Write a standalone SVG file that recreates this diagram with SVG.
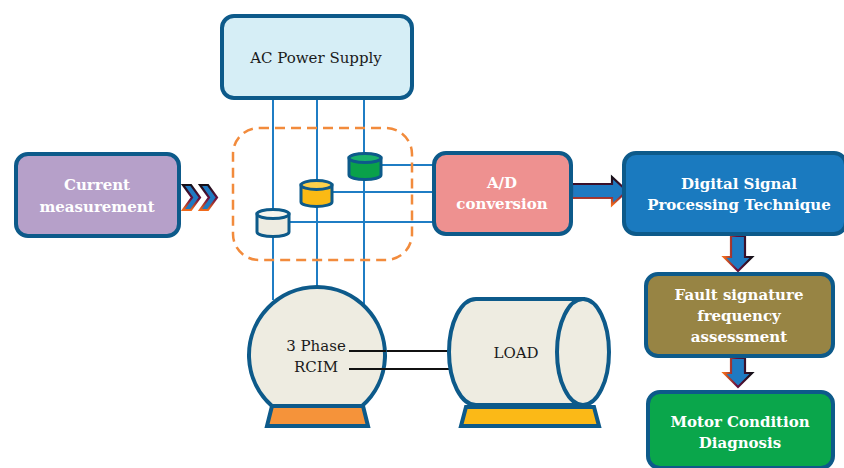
<svg xmlns="http://www.w3.org/2000/svg" width="844" height="468" viewBox="0 0 844 468">
  <defs>
    <!-- dark-to-orange rim used on the flow arrows -->
    <linearGradient id="rim" x1="0" y1="0" x2="0" y2="1">
      <stop offset="0" stop-color="#141018"/>
      <stop offset="0.55" stop-color="#6a1040"/>
      <stop offset="1" stop-color="#f06a1c"/>
    </linearGradient>
    <linearGradient id="rimH" x1="0" y1="0" x2="1" y2="0">
      <stop offset="0" stop-color="#f06a1c"/>
      <stop offset="0.45" stop-color="#6a1040"/>
      <stop offset="1" stop-color="#141018"/>
    </linearGradient>
  </defs>
  <style>
    .box { stroke: #0d5a8a; stroke-width: 4; }
    .wire { stroke: #1f7dc4; stroke-width: 2; fill: none; }
    .lbl { font-family: "DejaVu Serif", "Liberation Serif", serif; font-size: 15px; fill: #1a1a1a; text-anchor: middle; }
    .hd { font-family: "DejaVu Serif", "Liberation Serif", serif; font-size: 15px; font-weight: bold; fill: #ffffff; text-anchor: middle; }
    .cyl { stroke: #0d5a8a; stroke-width: 3; }
    .arrow { fill: #1f7ac2; stroke: url(#rim); stroke-width: 2.2; stroke-linejoin: miter; }
    .arrowV { fill: #1f7ac2; stroke: url(#rimH); stroke-width: 2.2; stroke-linejoin: miter; }
    .lead { stroke: #111111; stroke-width: 2; }
  </style>

  <!-- wiring from the supply down to the motor, with sensor taps -->
  <g id="connectors">
    <line class="wire" x1="273" y1="98" x2="273" y2="300"/>
    <line class="wire" x1="317" y1="98" x2="317" y2="288"/>
    <line class="wire" x1="364" y1="98" x2="364" y2="305"/>
    <line class="wire" x1="381" y1="165" x2="433" y2="165"/>
    <line class="wire" x1="332" y1="192" x2="433" y2="192"/>
    <line class="wire" x1="289" y1="222" x2="433" y2="222"/>
    <!-- shaft coupling between motor and load -->
    <line class="lead" x1="349" y1="351" x2="449" y2="351"/>
    <line class="lead" x1="349" y1="369" x2="449" y2="369"/>
    <!-- double chevron -->
    <polygon class="arrow" points="183,185 191,185 200,197.5 191,210 183,210 192,197.5"/>
    <polygon class="arrow" points="200,185 208,185 217,197.5 208,210 200,210 209,197.5"/>
    <!-- A/D to DSP -->
    <polygon class="arrow" points="572,184 612,184 612,177 627,191 612,205 612,198 572,198"/>
    <!-- DSP to fault assessment -->
    <polygon class="arrowV" points="731,236 745,236 745,257 752,257 738,271 724,257 731,257"/>
    <!-- fault assessment to diagnosis -->
    <polygon class="arrowV" points="731,358 745,358 745,373 752,373 738,387 724,373 731,373"/>
  </g>

  <g id="sensing-zone">
    <rect x="233" y="128" width="179" height="132" rx="26" fill="none" stroke="#f28b3c" stroke-width="2.5" stroke-dasharray="10,6"/>
  </g>

  <g id="sensor-green">
    <path class="cyl" d="M349,158 L349,175 A16,4.5 0 0 0 381,175 L381,158 Z" fill="#0aa14a"/>
    <ellipse class="cyl" cx="365" cy="158" rx="16" ry="4.5" fill="#19b06a"/>
  </g>
  <g id="sensor-yellow">
    <path class="cyl" d="M301,185 L301,202 A15.5,4.5 0 0 0 332,202 L332,185 Z" fill="#fbba14"/>
    <ellipse class="cyl" cx="316.5" cy="185" rx="15.5" ry="4.5" fill="#fcd04a"/>
  </g>
  <g id="sensor-white">
    <path class="cyl" d="M257,214 L257,232 A16,4.5 0 0 0 289,232 L289,214 Z" fill="#eeece1"/>
    <ellipse class="cyl" cx="273" cy="214" rx="16" ry="4.5" fill="#f6f5ee"/>
  </g>

  <g id="ac-supply">
    <rect class="box" x="222" y="16" width="190" height="82" rx="12" fill="#d6eef6"/>
    <text class="lbl" x="316" y="63">AC Power Supply</text>
  </g>

  <g id="current-measurement">
    <rect class="box" x="16" y="154" width="163" height="82" rx="12" fill="#b6a0c9"/>
    <text class="hd" x="97" y="190">Current</text>
    <text class="hd" x="97" y="212">measurement</text>
  </g>

  <g id="ad-conversion">
    <rect class="box" x="434" y="153" width="137" height="81" rx="12" fill="#ee9190"/>
    <text class="hd" x="502" y="188">A/D</text>
    <text class="hd" x="502" y="209">conversion</text>
  </g>

  <g id="dsp">
    <rect class="box" x="624" y="153" width="222" height="81" rx="12" fill="#1a7abf"/>
    <text class="hd" x="739" y="189">Digital Signal</text>
    <text class="hd" x="739" y="210">Processing Technique</text>
  </g>

  <g id="fault-assessment">
    <rect class="box" x="646" y="274" width="187" height="82" rx="12" fill="#978444"/>
    <text class="hd" x="739" y="300">Fault signature</text>
    <text class="hd" x="739" y="321">frequency</text>
    <text class="hd" x="739" y="342">assessment</text>
  </g>

  <g id="diagnosis">
    <rect class="box" x="648" y="392" width="185" height="76" rx="12" fill="#0aa64b"/>
    <text class="hd" x="740" y="427">Motor Condition</text>
    <text class="hd" x="740" y="448">Diagnosis</text>
  </g>

  <g id="motor">
    <path class="box" d="M267,426 L272,406 L363,406 L368,426 Z" fill="#f5933a"/>
    <path class="box" d="M272,406 A68,68 0 1 1 362,406 Z" fill="#eeece1"/>
    <line class="lead" x1="349" y1="351" x2="386" y2="351"/>
    <line class="lead" x1="349" y1="369" x2="386" y2="369"/>
    <text class="lbl" x="316" y="351">3 Phase</text>
    <text class="lbl" x="316" y="372">RCIM</text>
  </g>

  <g id="load">
    <path class="box" d="M461,426 L466,407 L594,407 L599,426 Z" fill="#fbb917"/>
    <path class="box" d="M476,299 L583,299 L583,405 L476,405 A27,53 0 0 1 476,299 Z" fill="#eeece1"/>
    <ellipse class="box" cx="583" cy="352" rx="26" ry="53" fill="#eeece1"/>
    <text class="lbl" x="516" y="358">LOAD</text>
  </g>
</svg>
